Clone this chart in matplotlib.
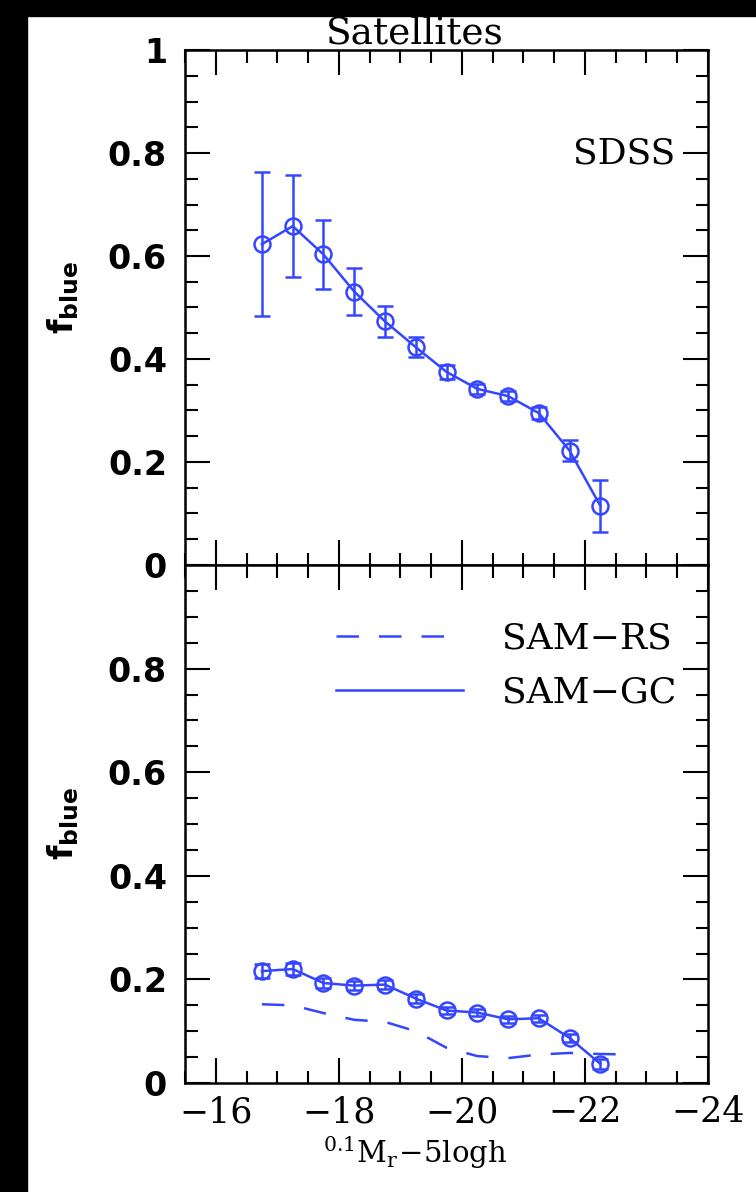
import numpy as np
import matplotlib
matplotlib.use("Agg")
from matplotlib import pyplot as plt
from matplotlib.patches import Rectangle
from matplotlib.lines import Line2D
from matplotlib.ticker import MultipleLocator, FixedLocator

# Absolute magnitude bins
mag = [-16.75, -17.25, -17.75, -18.25, -18.75, -19.25, -19.75,
       -20.25, -20.75, -21.25, -21.75, -22.25]

# SDSS satellites: blue fraction and errors
sdss_f = [0.623, 0.658, 0.603, 0.531, 0.473, 0.423, 0.375,
          0.342, 0.328, 0.295, 0.222, 0.115]
sdss_err = [0.140, 0.099, 0.067, 0.045, 0.030, 0.020, 0.013,
            0.010, 0.009, 0.011, 0.020, 0.050]

# SAM-GC model with errors
gc_f = [0.216, 0.220, 0.193, 0.188, 0.190, 0.163, 0.140,
        0.136, 0.123, 0.125, 0.087, 0.037]
gc_err = [0.013, 0.011, 0.009, 0.008, 0.008, 0.008, 0.007,
          0.007, 0.007, 0.007, 0.008, 0.010]

# SAM-RS model (one more bin at the bright end)
rs_mag = [-16.75, -17.25, -17.75, -18.25, -18.75, -19.25, -19.75,
          -20.25, -20.75, -21.25, -21.75, -22.25, -22.75]
rs_f = [0.152, 0.150, 0.135, 0.122, 0.118, 0.100, 0.068,
        0.052, 0.048, 0.055, 0.058, 0.056, 0.055]

xticks = [-16, -18, -20, -22, -24]
xticklabels = ["\u221216", "\u221218", "\u221220", "\u221222", "\u221224"]
yticks_top = [0, 0.2, 0.4, 0.6, 0.8, 1]
yticks_bot = [0, 0.2, 0.4, 0.6, 0.8]

BLUE = "#3446ff"
plt.rcParams["mathtext.fontset"] = "custom"
plt.rcParams["mathtext.rm"] = "DejaVu Serif"
plt.rcParams["mathtext.it"] = "DejaVu Serif:italic"
plt.rcParams["mathtext.bf"] = "DejaVu Sans:bold"

fig = plt.figure(figsize=(7.56, 11.92), dpi=100)
fig.patches.append(Rectangle((0, 0), 27 / 756, 1, transform=fig.transFigure,
                             color="black", zorder=-1))
fig.patches.append(Rectangle((0, 1 - 16 / 1192), 1, 16 / 1192,
                             transform=fig.transFigure, color="black", zorder=-1))

left, width = 185 / 756, 523 / 756
ax1 = fig.add_axes([left, 1 - 565 / 1192, width, 515 / 1192])
ax2 = fig.add_axes([left, 1 - 1083 / 1192, width, 518 / 1192])


def style(ax, yticks, label_y):
    ax.set_xlim(-15.5, -24)
    ax.set_ylim(0, 1)
    ax.xaxis.set_major_locator(FixedLocator(xticks))
    ax.xaxis.set_minor_locator(MultipleLocator(0.5))
    ax.yaxis.set_major_locator(FixedLocator(yticks))
    ax.yaxis.set_minor_locator(MultipleLocator(0.05))
    ax.tick_params(which="both", direction="in", top=True, right=True, width=1.5)
    ax.tick_params(which="major", length=18)
    ax.tick_params(which="minor", length=9)
    ax.tick_params(axis="y", pad=13)
    ax.set_yticklabels(["0" if v == 0 else ("1" if v == 1 else "%.1f" % v) for v in yticks],
                       fontfamily="DejaVu Sans", fontweight="bold", fontsize=24)
    for s in ax.spines.values():
        s.set_linewidth(1.8)
    ax.set_ylabel(r"$\mathbf{f_{blue}}$", fontsize=24)
    ax.yaxis.set_label_coords(-0.198, label_y)


style(ax1, yticks_top, 0.52)
style(ax2, yticks_bot, 0.5)
ax1.set_xticklabels([])
ax2.set_xticklabels(xticklabels, fontfamily="DejaVu Serif", fontsize=25)
ax2.tick_params(axis="x", pad=9)

# top: SDSS
ax1.errorbar(mag, sdss_f, yerr=sdss_err, color=BLUE, marker="o", mfc="none",
             ms=11.5, mew=1.8, lw=1.8, capsize=6, capthick=1.8, elinewidth=1.8)
ax1.text(-23.47, 0.8, "SDSS", ha="right", va="center",
         fontfamily="DejaVu Serif", fontsize=26)
ax1.text(0.44, 1.012, "Satellites", transform=ax1.transAxes, ha="center",
         va="baseline", fontfamily="DejaVu Serif", fontsize=27)

# bottom: models
ax2.plot(rs_mag, rs_f, color=BLUE, lw=1.8, dashes=(9, 8))
ax2.errorbar(mag, gc_f, yerr=gc_err, color=BLUE, marker="o", mfc="none",
             ms=11.5, mew=1.8, lw=1.8, capsize=6, capthick=1.8, elinewidth=1.8)
handles = [Line2D([], [], color=BLUE, lw=1.8, dashes=(9, 8)),
           Line2D([], [], color=BLUE, lw=1.8)]
ax2.legend(handles, ["SAM\u2212RS", "SAM\u2212GC"], loc="upper right",
           bbox_to_anchor=(0.94, 0.89), frameon=False,
           borderpad=0, borderaxespad=0, handlelength=3.5, handletextpad=1.1,
           labelspacing=0.55, prop={"family": "DejaVu Serif", "size": 26})
ax2.set_xlabel(r"$^{0.1}\mathrm{M_r}\!-\!5\mathrm{logh}$", fontsize=21)
ax2.xaxis.set_label_coords(0.44, -0.1)

fig.savefig("out.png", dpi=100)
